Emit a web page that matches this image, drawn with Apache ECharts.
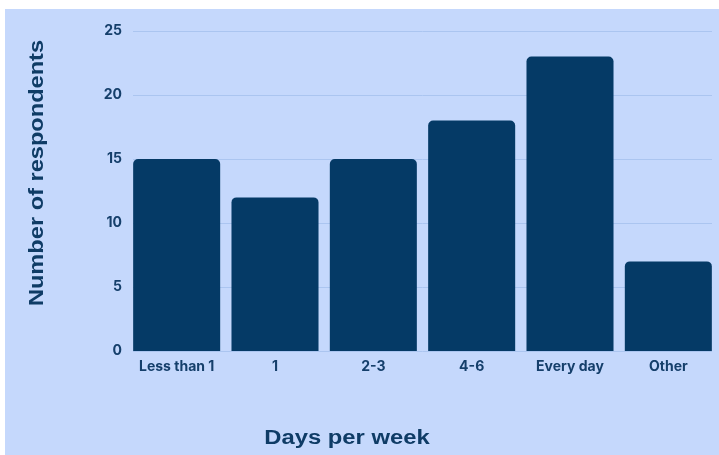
<!DOCTYPE html>
<html>
<head>
<meta charset="utf-8">
<script src="https://cdn.jsdelivr.net/npm/echarts@6/dist/echarts.min.js"></script>
<style>
  html, body { margin: 0; padding: 0; background: #ffffff; width: 719px; height: 455px; overflow: hidden; }
  #chart { position: absolute; left: 5px; top: 9px; width: 714px; height: 446px; background: #c5d8fc; }
</style>
</head>
<body>
<div id="chart"></div>
<script>
// Survey responses: how many days per week
const categories = ['Less than 1', '1', '2-3', '4-6', 'Every day', 'Other'];
const respondents = [15, 12, 15, 18, 23, 7];
const yTicks = { min: 0, max: 25, interval: 5 };
const xTitle = 'Days per week';
const yTitle = 'Number of respondents';

const textColor = '#153f6b';
const titleColor = '#0f3c66';
const chart = echarts.init(document.getElementById('chart'), null, { renderer: 'canvas' });

const titleFont = { fontFamily: 'Liberation Sans', fontWeight: 'bold', fontSize: 20, fill: titleColor };

chart.setOption({
  animation: false,
  // grid 0 holds the bars (bars run flush to the plot edges),
  // grid 1 holds the value scale and the horizontal guide lines
  grid: [
    { left: 122.5, right: 1.5, top: 22, bottom: 104 },
    { left: 128, right: 7, top: 22, bottom: 104 }
  ],
  xAxis: [
    {
      gridIndex: 0,
      type: 'category',
      data: categories,
      axisLine: { show: false },
      axisTick: { show: false },
      axisLabel: { margin: 9, fontFamily: 'Inter', fontWeight: 700, fontSize: 14, color: textColor }
    },
    { gridIndex: 1, type: 'category', data: categories, show: false }
  ],
  yAxis: [
    { gridIndex: 0, type: 'value', min: yTicks.min, max: yTicks.max, interval: yTicks.interval, show: false },
    {
      gridIndex: 1,
      type: 'value',
      min: yTicks.min,
      max: yTicks.max,
      interval: yTicks.interval,
      axisLine: { show: false },
      axisTick: { show: false },
      axisLabel: { margin: 11, fontFamily: 'Inter', fontWeight: 700, fontSize: 14, color: textColor },
      splitLine: { lineStyle: { color: '#abc5f0', width: 1 } }
    }
  ],
  graphic: [
    {
      type: 'text',
      x: 342, y: 429,
      scaleX: 1.19,
      style: Object.assign({ text: xTitle, textAlign: 'center', textVerticalAlign: 'middle' }, titleFont)
    },
    {
      type: 'text',
      x: 32, y: 164,
      rotation: Math.PI / 2,
      scaleX: 1.18,
      style: Object.assign({ text: yTitle, textAlign: 'center', textVerticalAlign: 'middle' }, titleFont)
    }
  ],
  series: [{
    type: 'bar',
    xAxisIndex: 0,
    yAxisIndex: 0,
    data: respondents,
    barCategoryGap: '11.5%',
    itemStyle: { color: '#053a66', borderRadius: [5, 5, 0, 0] }
  }]
});
</script>
</body>
</html>
